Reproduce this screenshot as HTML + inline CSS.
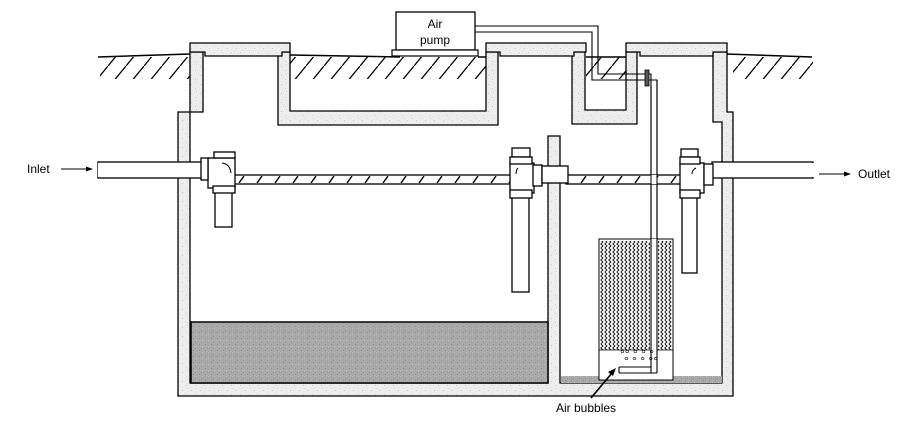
<!DOCTYPE html>
<html><head><meta charset="utf-8"><style>
html,body{margin:0;padding:0;background:#fff;width:915px;height:425px;overflow:hidden}
svg{display:block}
text{font-family:"Liberation Sans",sans-serif;font-size:12px;fill:#000}
</style></head><body>
<svg width="915" height="425" viewBox="0 0 915 425" xmlns="http://www.w3.org/2000/svg">
<defs>
<pattern id="conc" width="9" height="9" patternUnits="userSpaceOnUse">
<rect width="9" height="9" fill="#ededed"/>
<rect x="2" y="3" width="1" height="1" fill="#c8c8c8"/>
<rect x="6" y="7" width="1" height="1" fill="#d0d0d0"/>
<rect x="7" y="1" width="1" height="1" fill="#d8d8d8"/>
</pattern>
<pattern id="sludge" width="6" height="6" patternUnits="userSpaceOnUse">
<rect width="6" height="6" fill="#a9a9a9"/>
<rect x="1" y="2" width="1" height="1" fill="#8c8c8c"/>
<rect x="4" y="4" width="1" height="1" fill="#c0c0c0"/>
<rect x="3" y="0" width="1" height="1" fill="#969696"/>
</pattern>
<pattern id="hatch" width="18" height="22" patternUnits="userSpaceOnUse">
<line x1="0" y1="22" x2="18" y2="0" stroke="#000" stroke-width="1.3"/>
</pattern>
<pattern id="phatch" x="233" y="176" width="18" height="7" patternUnits="userSpaceOnUse">
<line x1="6" y1="7" x2="11" y2="0" stroke="#000" stroke-width="1.4"/>
</pattern>
<pattern id="media" width="4" height="8" patternUnits="userSpaceOnUse">
<polyline points="0.8,0 3,2 0.8,4 3,6 0.8,8" fill="none" stroke="#111" stroke-width="0.9"/>
</pattern>
</defs>

<!-- ground hatching -->
<rect x="100" y="57" width="90" height="22" fill="url(#hatch)"/>
<rect x="586" y="57" width="40" height="22" fill="url(#hatch)"/>
<rect x="733" y="57" width="80" height="22" fill="url(#hatch)"/>
<path d="M98 57 L190 54 M290 55 L400 57 M726 54 L812 57 M478 57 L486 57 M586 57 L626 57" stroke="#000" stroke-width="1.5" fill="none"/>

<!-- tank outer shell -->
<path d="M190 52 H203 V112 H190 V383 H548 V136 H560 V383 H722 V122 H713 V52 H727 V112 H733 V396 H178 V112 H190 Z" fill="url(#conc)" stroke="#000" stroke-width="1.3"/>
<!-- pump well -->
<path d="M278 52 H290 V111 H486 V52 H498 V125 H278 Z" fill="url(#conc)" stroke="#000" stroke-width="1.3"/>
<rect x="290" y="57" width="196" height="22" fill="url(#hatch)"/>
<!-- valve well -->
<path d="M572 52 H585 V110 H626 V52 H637 V124 H572 Z" fill="url(#conc)" stroke="#000" stroke-width="1.3"/>
<!-- lids -->
<path d="M190 43 H290 V52 H282 V56 H205 V52 H190 Z" fill="url(#conc)" stroke="#000" stroke-width="1.3"/>
<path d="M486 43 H586 V52 H574 V56 H500 V52 H486 Z" fill="url(#conc)" stroke="#000" stroke-width="1.3"/>
<path d="M626 43 H727 V52 H713 V56 H640 V52 H626 Z" fill="url(#conc)" stroke="#000" stroke-width="1.3"/>

<!-- air pump -->
<rect x="396" y="12" width="79" height="38" fill="#fff" stroke="#000" stroke-width="1.3"/>
<rect x="392" y="50" width="86" height="6" fill="#fff" stroke="#000" stroke-width="1.2"/>
<text x="435" y="28" text-anchor="middle" font-size="13">Air</text>
<text x="435" y="44" text-anchor="middle" font-size="13">pump</text>

<!-- air lines -->
<path d="M475 26 H598 V74 H651 V373 H619 V367 H657 V80 H592 V32 H475" fill="none" stroke="#000" stroke-width="1.1"/>
<rect x="645" y="70" width="4" height="16" fill="#555" stroke="#000" stroke-width="0.8"/>

<!-- sludge -->
<rect x="191" y="322" width="357" height="61" fill="url(#sludge)" stroke="#000" stroke-width="1.5"/>
<rect x="561" y="376" width="161" height="7" fill="url(#sludge)"/>

<!-- media box -->
<rect x="599" y="239" width="74" height="141" fill="#fff" stroke="#000" stroke-width="1"/>
<rect x="600" y="241" width="50" height="109" fill="url(#media)"/>
<rect x="658" y="241" width="14" height="109" fill="url(#media)"/>
<line x1="599" y1="350" x2="673" y2="350" stroke="#000" stroke-width="0.8"/>
<rect x="651" y="239" width="6" height="134" fill="#fff"/>
<line x1="651" y1="86" x2="651" y2="373" stroke="#000" stroke-width="1.1"/>
<line x1="657" y1="80" x2="657" y2="373" stroke="#000" stroke-width="1.1"/>
<g fill="#333" font-size="5"><text x="620" y="358">°° ° ° °</text><text x="624" y="365">° ° ° °°</text></g>
<path d="M619 367 H651 M619 373 H657 M619 367 V373" stroke="#000" stroke-width="1.1"/>

<!-- hatched connecting pipe -->
<rect x="232" y="175" width="280" height="9" fill="#fff" stroke="#000" stroke-width="1.3"/>
<rect x="233" y="176" width="278" height="7" fill="url(#phatch)"/>
<rect x="566" y="175" width="115" height="9" fill="#fff" stroke="#000" stroke-width="1.3"/>
<rect x="567" y="176" width="113" height="7" fill="url(#phatch)"/>
<rect x="651" y="175" width="6" height="9" fill="#fff"/>
<line x1="651" y1="175" x2="651" y2="184" stroke="#000"/><line x1="657" y1="175" x2="657" y2="184" stroke="#000"/>

<!-- inlet pipe -->
<rect x="98" y="162" width="105" height="16" fill="#fff" stroke="#000" stroke-width="1.3"/>
<rect x="98" y="163" width="2" height="14" fill="#fff"/>
<!-- outlet pipe -->
<rect x="712" y="162" width="101" height="16" fill="#fff" stroke="#000" stroke-width="1.3"/>
<rect x="812" y="163" width="3" height="14" fill="#fff"/>

<g fill="#fff" stroke="#000" stroke-width="1.3">
<!-- tee 1 -->
<rect x="215" y="190" width="17" height="37"/>
<rect x="208" y="158" width="27" height="30"/>
<rect x="214" y="152" width="21" height="6"/>
<rect x="213" y="186" width="22" height="7"/>
<rect x="201" y="158" width="7" height="22"/>
<!-- tee 2 -->
<rect x="512" y="196" width="17" height="96"/>
<rect x="510" y="163" width="24" height="30"/>
<rect x="512" y="148" width="18" height="9"/>
<rect x="510" y="157" width="22" height="7"/>
<rect x="510" y="190" width="22" height="8"/>
<rect x="533" y="165" width="9" height="21"/>
<rect x="542" y="166" width="26" height="17"/>
<!-- tee 3 -->
<rect x="682" y="193" width="15" height="80"/>
<rect x="680" y="163" width="24" height="30"/>
<rect x="681" y="149" width="17" height="8"/>
<rect x="680" y="157" width="20" height="7"/>
<rect x="680" y="190" width="20" height="8"/>
<rect x="704" y="164" width="9" height="21"/>
</g>
<path d="M222 163 q8 1 9 10 M518 168 q-2 2 -2 6 M696 168 q-4 2 -4 6" fill="none" stroke="#000" stroke-width="1"/>

<!-- labels -->
<text x="27" y="173" font-size="12">Inlet</text>
<line x1="61" y1="169" x2="88" y2="169" stroke="#000" stroke-width="1"/>
<path d="M93 169 L86 166.5 V171.5 Z" fill="#000"/>
<text x="858" y="178" font-size="12">Outlet</text>
<line x1="819" y1="174" x2="846" y2="174" stroke="#000" stroke-width="1"/>
<path d="M851 174 L844 171.5 V176.5 Z" fill="#000"/>
<text x="556" y="412" font-size="12">Air bubbles</text>
<line x1="591" y1="398" x2="612" y2="373" stroke="#000" stroke-width="1.6"/>
<path d="M616 368 L608 372 L613 376 Z" fill="#000"/>
</svg>
</body></html>
